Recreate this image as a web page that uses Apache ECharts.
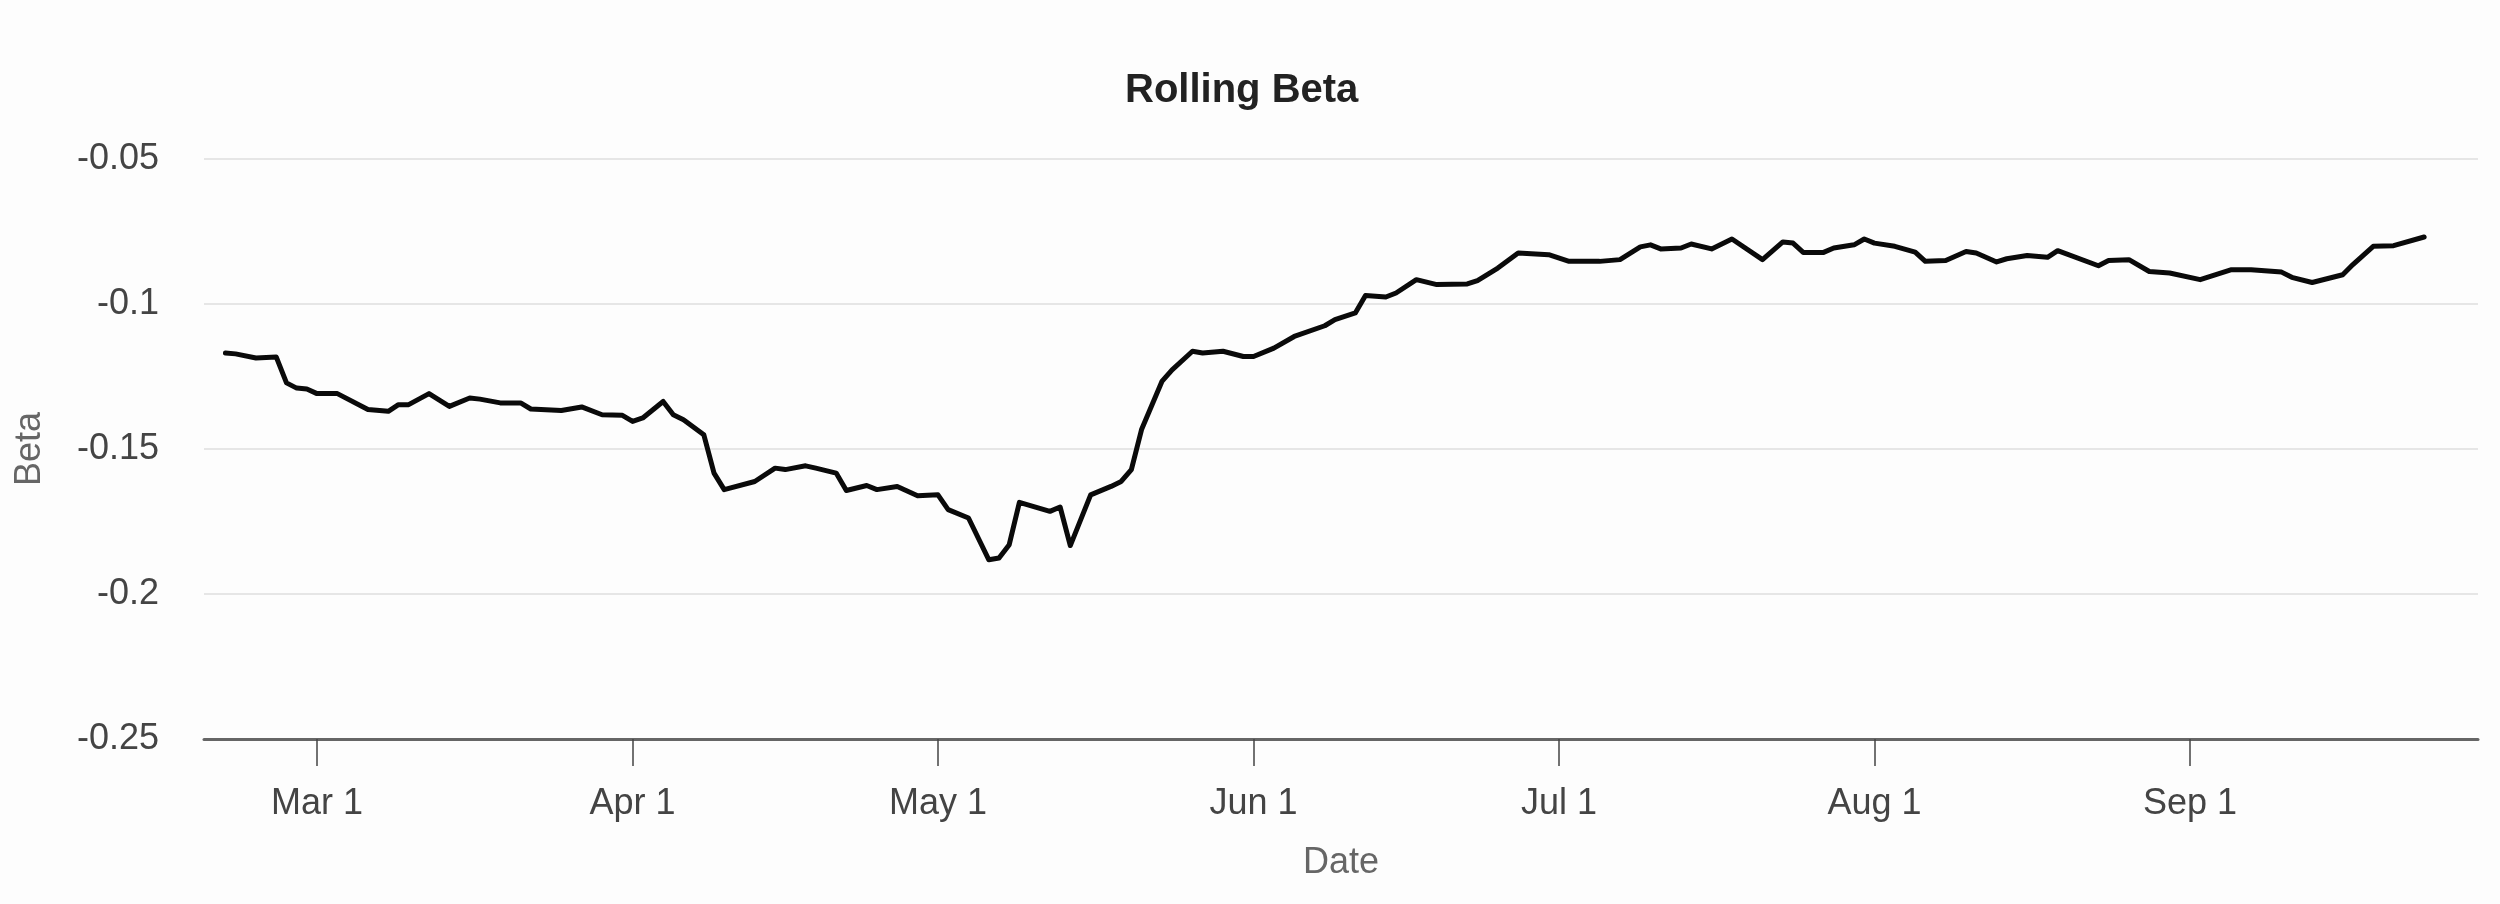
<!DOCTYPE html>
<html>
<head>
<meta charset="utf-8">
<script src="https://cdn.jsdelivr.net/npm/echarts@6/dist/echarts.min.js"></script>
<style>
html,body{margin:0;padding:0;background:#fdfdfd;}
#chart{width:2500px;height:904px;}
</style>
</head>
<body>
<div id="chart"></div>
<script>
// ---- data ----
const dates = [
  '2019-02-20','2019-02-21','2019-02-23','2019-02-25','2019-02-26','2019-02-27','2019-02-28',
  '2019-03-01','2019-03-03','2019-03-06','2019-03-08','2019-03-09','2019-03-10','2019-03-12',
  '2019-03-14','2019-03-16','2019-03-17','2019-03-19','2019-03-21','2019-03-22','2019-03-25',
  '2019-03-27','2019-03-29','2019-03-31','2019-04-01','2019-04-02','2019-04-04','2019-04-05',
  '2019-04-06','2019-04-08','2019-04-09','2019-04-10','2019-04-13','2019-04-15','2019-04-16',
  '2019-04-18','2019-04-19','2019-04-21','2019-04-22','2019-04-24','2019-04-25','2019-04-27',
  '2019-04-29','2019-05-01','2019-05-02','2019-05-04','2019-05-06','2019-05-07','2019-05-08',
  '2019-05-09','2019-05-12','2019-05-13','2019-05-14','2019-05-16','2019-05-18','2019-05-19',
  '2019-05-20','2019-05-21','2019-05-23','2019-05-24','2019-05-26','2019-05-27','2019-05-29',
  '2019-05-31','2019-06-01','2019-06-03','2019-06-05','2019-06-08','2019-06-09','2019-06-11',
  '2019-06-12','2019-06-14','2019-06-15','2019-06-17','2019-06-19','2019-06-22','2019-06-23',
  '2019-06-25','2019-06-27','2019-06-30','2019-07-02','2019-07-05','2019-07-07','2019-07-09',
  '2019-07-10','2019-07-11','2019-07-13','2019-07-14','2019-07-16','2019-07-18','2019-07-21',
  '2019-07-23','2019-07-24','2019-07-25','2019-07-27','2019-07-28','2019-07-30','2019-07-31',
  '2019-08-01','2019-08-03','2019-08-05','2019-08-06','2019-08-08','2019-08-10','2019-08-11',
  '2019-08-13','2019-08-14','2019-08-16','2019-08-18','2019-08-19','2019-08-23','2019-08-24',
  '2019-08-26','2019-08-28','2019-08-30','2019-09-02','2019-09-05','2019-09-07','2019-09-10',
  '2019-09-11','2019-09-13','2019-09-16','2019-09-17','2019-09-19','2019-09-21','2019-09-24'
];
const beta = [
  -0.1169,-0.1172,-0.1186,-0.1183,-0.1272,-0.1290,-0.1293,
  -0.1309,-0.1309,-0.1364,-0.1370,-0.1347,-0.1347,-0.1309,
  -0.1353,-0.1324,-0.1328,-0.1341,-0.1341,-0.1362,-0.1367,
  -0.1355,-0.1382,-0.1384,-0.1405,-0.1393,-0.1336,-0.1382,
  -0.1399,-0.1451,-0.1583,-0.1640,-0.1612,-0.1566,-0.1571,
  -0.1558,-0.1566,-0.1583,-0.1643,-0.1626,-0.1640,-0.1629,
  -0.1661,-0.1658,-0.1709,-0.1738,-0.1882,-0.1876,-0.1830,
  -0.1684,-0.1715,-0.1700,-0.1833,-0.1658,-0.1629,-0.1612,
  -0.1571,-0.1433,-0.1267,-0.1227,-0.1163,-0.1169,-0.1163,
  -0.1181,-0.1181,-0.1152,-0.1112,-0.1075,-0.1054,-0.1031,
  -0.0971,-0.0976,-0.0962,-0.0916,-0.0933,-0.0931,-0.0919,
  -0.0876,-0.0824,-0.0830,-0.0853,-0.0853,-0.0847,-0.0803,
  -0.0796,-0.0810,-0.0807,-0.0793,-0.0810,-0.0776,-0.0847,
  -0.0786,-0.0790,-0.0822,-0.0822,-0.0807,-0.0796,-0.0776,
  -0.0790,-0.0801,-0.0821,-0.0853,-0.0850,-0.0819,-0.0824,
  -0.0855,-0.0844,-0.0833,-0.0839,-0.0816,-0.0868,-0.0850,
  -0.0847,-0.0888,-0.0893,-0.0916,-0.0882,-0.0882,-0.0890,
  -0.0908,-0.0926,-0.0899,-0.0864,-0.0801,-0.0799,-0.0769
];
const monthTicks = ['2019-03-01','2019-04-01','2019-05-01','2019-06-01','2019-07-01','2019-08-01','2019-09-01'];
const monthNames = ['Jan','Feb','Mar','Apr','May','Jun','Jul','Aug','Sep','Oct','Nov','Dec'];
const xRange = ['2019-02-17T21:30','2019-09-29T07:00'];
const yMin = -0.25, yMax = -0.05, yStep = 0.05;

function ts(s){
  const parts = s.split('T');
  const ymd = parts[0].split('-').map(Number);
  let h = 0, mi = 0;
  if (parts[1]) { const hm = parts[1].split(':').map(Number); h = hm[0]; mi = hm[1]; }
  return new Date(ymd[0], ymd[1] - 1, ymd[2], h, mi).getTime();
}

const seriesData = dates.map((d, i) => [ts(d), beta[i]]);
const tickVals = monthTicks.map(ts);
const FONT = '"Liberation Sans", Arial, sans-serif';

const chart = echarts.init(document.getElementById('chart'), null, {renderer: 'canvas'});
chart.setOption({
  animation: false,
  backgroundColor: '#fdfdfd',
  title: {
    text: 'Rolling Beta',
    left: 1120,
    top: 66,
    textStyle: {fontFamily: FONT, fontSize: 40, fontWeight: 'bold', color: '#222'}
  },
  grid: {left: 204, right: 22, top: 159, bottom: 165, containLabel: false},
  xAxis: {
    type: 'value',
    scale: true,
    min: ts(xRange[0]),
    max: ts(xRange[1]),
    name: 'Date',
    nameLocation: 'middle',
    nameGap: 106,
    nameTextStyle: {fontFamily: FONT, fontSize: 36, color: '#666'},
    axisLine: {show: true, onZero: false, lineStyle: {color: '#666', width: 3}},
    axisTick: {show: true, customValues: tickVals, length: 27, lineStyle: {color: '#444', width: 1.5}},
    axisLabel: {
      customValues: tickVals,
      margin: 47,
      fontFamily: FONT, fontSize: 36, color: '#444',
      formatter: function (v) { const d = new Date(v); return monthNames[d.getMonth()] + ' ' + d.getDate(); }
    },
    splitLine: {show: false}
  },
  yAxis: {
    type: 'value',
    min: yMin, max: yMax, interval: yStep,
    name: 'Beta',
    nameLocation: 'middle',
    nameGap: 156,
    nameTextStyle: {fontFamily: FONT, fontSize: 36, color: '#666'},
    axisLine: {show: false},
    axisTick: {show: false},
    axisLabel: {margin: 45, fontFamily: FONT, fontSize: 36, color: '#444',
      formatter: function (v) { return String(Math.round(v * 100) / 100); }},
    splitLine: {show: true, lineStyle: {color: '#e6e6e6', width: 2}}
  },
  series: [{
    type: 'line',
    data: seriesData,
    showSymbol: false,
    smooth: false,
    lineStyle: {color: '#0a0a0a', width: 5, join: 'round', cap: 'round'}
  }]
});
</script>
</body>
</html>
